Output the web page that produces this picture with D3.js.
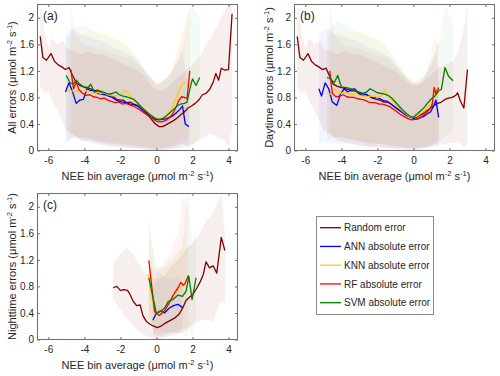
<!DOCTYPE html>
<html>
<head>
<meta charset="utf-8">
<script src="https://cdn.jsdelivr.net/npm/d3@7"></script>
<style>
  body { margin: 0; background: #fff; }
  svg text { font-family: "Liberation Sans", Arial, Helvetica, sans-serif; fill: #262626; }
</style>
</head>
<body>
<div id="plot"></div>
<script>
// Axis ticks and legend names
const xTicks = [-6, -4, -2, 0, 2, 4];
const yTicks = [0, 0.4, 0.8, 1.2, 1.6, 2];
const yTickLabels = ["0", "0.4", "0.8", "1.2", "1.6", "2"];
const seriesNames = ["Random error", "ANN absolute error", "KNN absolute error", "RF absolute error", "SVM absolute error"];
const seriesColors = ["#800000", "#0000ff", "#ffcc00", "#ff0000", "#008000"];

// (a) All errors: [NEE bin, error]
const aRandom = [[-6.45,1.72],[-6.3,1.40],[-6.1,1.36],[-5.85,1.46],[-5.65,1.34],[-5.45,1.29],[-5.25,1.26],[-5.05,1.22],[-4.85,1.25],[-4.65,1.13],[-4.45,1.02],[-4.25,0.98],[-4.05,0.96],[-3.85,0.95],[-3.65,0.93],[-3.45,0.90],[-3.25,0.91],[-3.05,0.87],[-2.85,0.86],[-2.65,0.84],[-2.45,0.83],[-2.25,0.78],[-2.05,0.76],[-1.85,0.76],[-1.65,0.72],[-1.45,0.73],[-1.25,0.70],[-1.05,0.68],[-0.85,0.64],[-0.65,0.60],[-0.45,0.53],[-0.25,0.46],[-0.05,0.40],[0.15,0.36],[0.35,0.36],[0.55,0.39],[0.75,0.42],[0.95,0.45],[1.15,0.49],[1.35,0.54],[1.55,0.58],[1.75,0.64],[1.95,0.67],[2.15,0.71],[2.35,0.76],[2.55,0.84],[2.75,0.86],[2.95,0.92],[3.15,1.03],[3.3,1.16],[3.45,1.06],[3.6,1.24],[3.8,1.21],[4.0,1.22],[4.2,2.06]];
const aAnn = [[-5.05,0.88],[-4.85,1.02],[-4.65,0.88],[-4.45,0.71],[-4.25,0.76],[-4.05,0.77],[-3.85,0.93],[-3.65,0.90],[-3.45,0.91],[-3.25,0.86],[-3.05,0.85],[-2.85,0.84],[-2.65,0.82],[-2.45,0.80],[-2.25,0.76],[-2.05,0.74],[-1.85,0.73],[-1.65,0.72],[-1.45,0.70],[-1.25,0.69],[-1.05,0.67],[-0.85,0.63],[-0.65,0.58],[-0.45,0.54],[-0.25,0.50],[-0.05,0.47],[0.15,0.46],[0.35,0.47],[0.55,0.48],[0.75,0.50],[0.95,0.53],[1.15,0.58],[1.3,0.62],[1.45,0.67],[1.6,0.40],[1.8,0.36]];
const aKnn = [[-4.9,0.91],[-4.7,0.90],[-4.5,0.89],[-4.3,0.90],[-4.1,0.88],[-3.9,0.90],[-3.7,0.89],[-3.5,0.87],[-3.3,0.88],[-3.1,0.86],[-2.9,0.87],[-2.7,0.84],[-2.5,0.83],[-2.3,0.82],[-2.1,0.84],[-1.9,0.86],[-1.7,0.91],[-1.5,0.84],[-1.3,0.78],[-1.1,0.72],[-0.9,0.67],[-0.7,0.62],[-0.5,0.58],[-0.3,0.53],[-0.1,0.50],[0.1,0.48],[0.3,0.49],[0.5,0.52],[0.7,0.58],[0.9,0.66],[1.1,0.80],[1.3,0.93],[1.45,1.00],[1.6,1.03]];
const aRf = [[-4.75,1.22],[-4.6,0.93],[-4.45,1.03],[-4.3,0.92],[-4.1,0.86],[-3.9,0.83],[-3.7,0.84],[-3.5,0.81],[-3.3,0.80],[-3.1,0.78],[-2.9,0.79],[-2.7,0.76],[-2.5,0.74],[-2.3,0.72],[-2.1,0.73],[-1.9,0.70],[-1.7,0.71],[-1.5,0.69],[-1.3,0.67],[-1.1,0.64],[-0.9,0.61],[-0.7,0.57],[-0.5,0.53],[-0.3,0.49],[-0.1,0.46],[0.1,0.43],[0.3,0.43],[0.5,0.45],[0.7,0.49],[0.9,0.55],[1.1,0.66],[1.25,0.76],[1.4,0.81],[1.55,0.80],[1.7,0.78],[1.85,1.20]];
const aSvm = [[-5.0,1.13],[-4.8,1.02],[-4.6,1.00],[-4.45,1.06],[-4.25,1.00],[-4.05,0.96],[-3.85,0.93],[-3.65,1.00],[-3.45,0.88],[-3.25,0.90],[-3.05,0.89],[-2.85,0.87],[-2.65,0.85],[-2.45,0.86],[-2.25,0.88],[-2.05,0.84],[-1.85,0.82],[-1.65,0.81],[-1.45,0.79],[-1.25,0.77],[-1.05,0.72],[-0.85,0.66],[-0.65,0.61],[-0.45,0.56],[-0.25,0.52],[-0.05,0.48],[0.15,0.47],[0.35,0.48],[0.55,0.52],[0.75,0.57],[0.95,0.62],[1.15,0.67],[1.35,0.70],[1.55,0.71],[1.7,0.73],[1.85,0.92],[2.0,1.08],[2.2,0.98],[2.4,1.10]];

// (a) spread bands: [NEE bin, low, high]
const aRandomBand = [[-6.45,0.95,2.2],[-6.2,0.85,1.75],[-6.0,0.9,1.55],[-5.8,0.75,1.7],[-5.5,0.6,1.6],[-5.2,0.45,1.65],[-5.0,0.3,1.55],[-4.6,0.25,1.5],[-4.2,0.15,1.45],[-3.8,0.12,1.5],[-3.4,0.1,1.45],[-3.0,0.08,1.45],[-2.6,0.06,1.4],[-2.2,0.05,1.35],[-1.8,0.05,1.3],[-1.4,0.04,1.25],[-1.0,0.03,1.2],[-0.6,0.02,1.1],[-0.2,0.01,0.95],[0.2,0.0,0.9],[0.6,0.02,0.95],[1.0,0.03,1.05],[1.4,0.05,1.15],[1.8,0.08,1.25],[2.2,0.12,1.35],[2.6,0.2,1.5],[3.0,0.25,1.7],[3.4,0.2,1.9],[3.8,0.15,2.1],[4.0,0.05,2.2],[4.2,0.3,2.2]];
const aAnnBand = [[-5.05,0.1,1.7],[-4.6,0.2,1.85],[-4.2,0.15,1.75],[-3.6,0.15,1.7],[-3.0,0.1,1.65],[-2.4,0.08,1.55],[-1.8,0.05,1.5],[-1.2,0.03,1.4],[-0.6,0.02,1.2],[0.0,0.0,1.0],[0.6,0.02,1.1],[1.2,0.05,1.35],[1.45,0.1,1.5],[1.8,0.0,0.9]];
const aKnnBand = [[-4.9,0.2,1.7],[-4.3,0.2,1.75],[-3.7,0.18,1.8],[-3.1,0.15,1.8],[-2.5,0.12,1.75],[-1.9,0.1,1.75],[-1.3,0.08,1.5],[-0.7,0.05,1.25],[-0.1,0.05,1.05],[0.5,0.05,1.1],[1.1,0.15,1.5],[1.6,0.2,1.9]];
const aRfBand = [[-4.75,0.25,2.2],[-4.5,0.2,1.75],[-4.0,0.2,1.6],[-3.4,0.15,1.55],[-2.8,0.12,1.5],[-2.2,0.1,1.45],[-1.6,0.08,1.4],[-1.0,0.06,1.3],[-0.4,0.04,1.1],[0.2,0.03,1.0],[0.8,0.05,1.15],[1.3,0.1,1.6],[1.85,0.15,2.2]];
const aSvmBand = [[-5.0,0.15,1.75],[-4.5,0.2,1.85],[-4.0,0.18,1.9],[-3.5,0.15,1.8],[-3.0,0.12,1.75],[-2.5,0.1,1.7],[-2.0,0.1,1.65],[-1.5,0.08,1.55],[-1.0,0.06,1.35],[-0.5,0.04,1.15],[0.0,0.03,1.0],[0.5,0.04,1.05],[1.0,0.08,1.25],[1.5,0.1,1.6],[1.9,0.05,2.2],[2.4,0.2,2.0]];

// (b) Daytime errors
const bRandom = [[-6.45,1.72],[-6.3,1.40],[-6.1,1.36],[-5.85,1.46],[-5.65,1.34],[-5.45,1.29],[-5.25,1.26],[-5.05,1.22],[-4.85,1.24],[-4.65,1.12],[-4.45,1.00],[-4.25,0.97],[-4.05,0.95],[-3.85,0.94],[-3.65,0.92],[-3.45,0.90],[-3.25,0.90],[-3.05,0.87],[-2.85,0.86],[-2.65,0.84],[-2.45,0.82],[-2.25,0.79],[-2.05,0.77],[-1.85,0.76],[-1.65,0.73],[-1.45,0.73],[-1.25,0.70],[-1.05,0.66],[-0.85,0.62],[-0.65,0.58],[-0.45,0.55],[-0.25,0.52],[-0.05,0.50],[0.15,0.50],[0.35,0.53],[0.55,0.56],[0.75,0.60],[0.95,0.64],[1.15,0.68],[1.35,0.71],[1.55,0.73],[1.75,0.77],[1.95,0.79],[2.15,0.80],[2.35,0.83],[2.45,0.87],[2.6,0.75],[2.8,0.64],[3.0,1.22]];
const bAnn = [[-5.25,0.93],[-5.1,0.82],[-4.9,1.02],[-4.7,0.93],[-4.5,0.73],[-4.25,0.68],[-4.05,0.85],[-3.85,0.93],[-3.65,0.88],[-3.45,0.92],[-3.25,0.93],[-3.05,0.86],[-2.85,0.83],[-2.65,0.85],[-2.45,0.82],[-2.25,0.79],[-2.05,0.80],[-1.85,0.78],[-1.65,0.75],[-1.45,0.74],[-1.25,0.70],[-1.05,0.66],[-0.85,0.62],[-0.65,0.58],[-0.45,0.54],[-0.25,0.51],[-0.05,0.49],[0.15,0.47],[0.35,0.49],[0.55,0.51],[0.75,0.55],[0.95,0.58],[1.1,0.66],[1.25,0.76],[1.4,0.50]];
const bKnn = [[-4.8,0.86],[-4.6,0.85],[-4.4,0.93],[-4.2,0.88],[-4.0,0.86],[-3.8,0.88],[-3.6,0.86],[-3.4,0.84],[-3.2,0.86],[-3.0,0.83],[-2.8,0.82],[-2.6,0.81],[-2.4,0.82],[-2.2,0.82],[-2.0,0.80],[-1.8,0.82],[-1.6,0.91],[-1.4,0.82],[-1.2,0.76],[-1.0,0.70],[-0.8,0.64],[-0.6,0.59],[-0.4,0.55],[-0.2,0.51],[0.0,0.50],[0.2,0.52],[0.4,0.56],[0.6,0.60],[0.8,0.66],[1.0,0.72],[1.15,0.83],[1.3,0.92],[1.4,0.95]];
const bRf = [[-4.65,1.20],[-4.5,0.86],[-4.3,0.81],[-4.1,0.82],[-3.9,0.84],[-3.7,0.81],[-3.5,0.80],[-3.3,0.80],[-3.1,0.78],[-2.9,0.77],[-2.7,0.76],[-2.5,0.73],[-2.3,0.72],[-2.1,0.72],[-1.9,0.70],[-1.7,0.70],[-1.5,0.68],[-1.3,0.66],[-1.1,0.62],[-0.9,0.58],[-0.7,0.54],[-0.5,0.51],[-0.3,0.48],[-0.1,0.46],[0.1,0.47],[0.3,0.48],[0.5,0.52],[0.7,0.56],[0.9,0.62],[1.05,0.70],[1.15,0.95],[1.25,0.85],[1.4,0.95]];
const bSvm = [[-4.8,1.10],[-4.6,1.08],[-4.4,1.02],[-4.2,1.13],[-4.0,0.96],[-3.8,0.95],[-3.6,0.94],[-3.4,0.92],[-3.2,0.90],[-3.0,0.88],[-2.8,0.86],[-2.6,0.88],[-2.4,0.93],[-2.2,0.90],[-2.0,0.87],[-1.8,0.86],[-1.6,0.85],[-1.4,0.83],[-1.2,0.79],[-1.0,0.73],[-0.8,0.67],[-0.6,0.61],[-0.4,0.56],[-0.2,0.52],[0.0,0.50],[0.2,0.55],[0.4,0.60],[0.6,0.65],[0.8,0.72],[1.0,0.78],[1.2,0.82],[1.4,0.90],[1.55,0.92],[1.75,1.25],[1.95,1.12],[2.2,1.05]];

const bRandomBand = [[-6.45,0.95,2.2],[-6.2,0.85,1.75],[-6.0,0.9,1.55],[-5.8,0.75,1.7],[-5.5,0.6,1.6],[-5.2,0.45,1.65],[-5.0,0.3,1.55],[-4.6,0.25,1.5],[-4.2,0.15,1.45],[-3.8,0.12,1.5],[-3.4,0.1,1.45],[-3.0,0.08,1.45],[-2.6,0.06,1.4],[-2.2,0.05,1.35],[-1.8,0.05,1.3],[-1.4,0.04,1.25],[-1.0,0.03,1.2],[-0.6,0.03,1.1],[-0.2,0.02,1.0],[0.2,0.02,0.98],[0.6,0.04,1.05],[1.0,0.06,1.15],[1.4,0.08,1.25],[1.8,0.1,1.3],[2.2,0.12,1.35],[2.5,0.12,1.5],[2.8,0.05,1.85],[3.0,0.1,2.2]];
const bAnnBand = [[-5.25,0.1,1.75],[-4.8,0.12,1.85],[-4.3,0.1,1.75],[-3.7,0.1,1.7],[-3.1,0.08,1.65],[-2.5,0.06,1.55],[-1.9,0.05,1.5],[-1.3,0.03,1.4],[-0.7,0.02,1.2],[-0.1,0.0,1.0],[0.5,0.02,1.05],[1.0,0.05,1.3],[1.25,0.1,1.5],[1.4,0.0,1.0]];
const bKnnBand = [[-4.8,0.2,1.7],[-4.2,0.2,1.8],[-3.6,0.18,1.8],[-3.0,0.15,1.8],[-2.4,0.12,1.75],[-1.8,0.1,1.7],[-1.2,0.08,1.45],[-0.6,0.05,1.2],[0.0,0.05,1.05],[0.6,0.06,1.1],[1.1,0.15,1.45],[1.4,0.2,1.7]];
const bRfBand = [[-4.65,0.25,2.2],[-4.4,0.2,1.75],[-3.9,0.2,1.6],[-3.3,0.15,1.55],[-2.7,0.12,1.5],[-2.1,0.1,1.45],[-1.5,0.08,1.4],[-0.9,0.06,1.25],[-0.3,0.04,1.08],[0.3,0.04,1.0],[0.8,0.06,1.2],[1.15,0.1,1.7],[1.4,0.15,1.6]];
const bSvmBand = [[-4.8,0.15,1.8],[-4.3,0.2,1.95],[-3.8,0.18,1.9],[-3.3,0.15,1.8],[-2.8,0.12,1.75],[-2.3,0.1,1.7],[-1.8,0.1,1.65],[-1.3,0.08,1.5],[-0.8,0.06,1.3],[-0.3,0.04,1.1],[0.1,0.04,1.02],[0.6,0.06,1.15],[1.1,0.1,1.4],[1.5,0.15,1.7],[1.75,0.2,2.2],[2.2,0.3,1.9]];

// (c) Nighttime errors
const cRandom = [[-2.4,0.78],[-2.2,0.80],[-2.0,0.74],[-1.8,0.75],[-1.6,0.74],[-1.45,0.67],[-1.3,0.58],[-1.1,0.51],[-0.9,0.52],[-0.75,0.36],[-0.55,0.27],[-0.35,0.23],[-0.15,0.20],[0.05,0.18],[0.25,0.20],[0.45,0.24],[0.65,0.27],[0.85,0.30],[1.05,0.33],[1.25,0.38],[1.45,0.47],[1.65,0.59],[1.85,0.64],[2.05,0.69],[2.25,0.78],[2.45,0.88],[2.6,0.98],[2.75,1.17],[2.95,1.08],[3.15,1.11],[3.35,1.00],[3.6,1.54],[3.8,1.34]];
const cAnn = [[-0.2,0.29],[0.0,0.40],[0.2,0.43],[0.45,0.40],[0.7,0.47],[0.95,0.51],[1.2,0.53],[1.45,0.48]];
const cKnn = [[-0.45,0.98],[-0.1,0.40],[0.1,0.40],[0.3,0.44],[0.5,0.50],[0.7,0.58],[0.9,0.66],[1.1,0.72],[1.3,0.78],[1.5,0.82],[1.65,0.88]];
const cRf = [[-0.42,1.19],[-0.1,0.42],[0.15,0.36],[0.45,0.43],[0.75,0.57],[1.0,0.70],[1.2,0.78],[1.35,0.86],[1.5,0.82],[1.6,0.85],[1.78,0.97]];
const cSvm = [[-0.42,0.93],[0.0,0.39],[0.2,0.42],[0.45,0.47],[0.65,0.57],[0.9,0.60],[1.2,0.67],[1.45,0.65],[1.65,0.73],[1.8,0.95],[1.98,0.60],[2.2,0.93]];

const cRandomBand = [[-2.4,0.6,1.15],[-2.0,0.45,1.3],[-1.6,0.3,1.38],[-1.2,0.18,1.25],[-0.8,0.08,1.05],[-0.4,0.03,0.95],[0.0,0.0,0.9],[0.4,0.02,0.95],[0.8,0.05,1.1],[1.2,0.08,1.2],[1.6,0.15,1.35],[2.0,0.22,1.45],[2.4,0.28,1.6],[2.8,0.3,1.8],[3.15,0.27,1.9],[3.6,0.6,2.2],[3.8,0.55,1.6]];
const cAnnBand = [[-0.2,0.05,0.6],[0.0,0.1,1.05],[0.4,0.1,0.95],[0.8,0.1,0.9],[1.2,0.1,0.95],[1.45,0.1,0.85]];
const cKnnBand = [[-0.45,0.3,1.5],[-0.1,0.05,1.0],[0.4,0.05,1.05],[0.9,0.1,1.25],[1.3,0.15,1.45],[1.65,0.05,1.6]];
const cRfBand = [[-0.42,0.4,1.9],[-0.1,0.05,1.1],[0.3,0.05,1.1],[0.8,0.1,1.35],[1.2,0.15,1.6],[1.5,0.2,2.2],[1.78,0.1,1.9]];
const cSvmBand = [[-0.42,0.3,1.7],[0.0,0.05,1.05],[0.45,0.08,1.1],[0.9,0.1,1.2],[1.45,0.1,1.4],[1.65,0.0,2.2],[1.8,0.2,2.2],[1.98,0.0,1.5],[2.2,0.3,1.7]];

const W = 500, H = 376;
const svg = d3.select("#plot").append("svg")
  .attr("width", W).attr("height", H);

const panels = [
  { tag: "(a)", ylab: "All errors", left: 37.5, top: 4.5, bottom: 150.5,
    lines: [aRandom, aAnn, aKnn, aRf, aSvm], bands: [aRandomBand, aAnnBand, aKnnBand, aRfBand, aSvmBand] },
  { tag: "(b)", ylab: "Daytime errors", left: 294.5, top: 4.5, bottom: 150.5,
    lines: [bRandom, bAnn, bKnn, bRf, bSvm], bands: [bRandomBand, bAnnBand, bKnnBand, bRfBand, bSvmBand] },
  { tag: "(c)", ylab: "Nighttime errors", left: 37.5, top: 193.5, bottom: 339.5,
    lines: [cRandom, cAnn, cKnn, cRf, cSvm], bands: [cRandomBand, cAnnBand, cKnnBand, cRfBand, cSvmBand] }
];

const axColor = "#6e6e6e";

// unit label with superscripts
function unitLabel(sel, prefix) {
  sel.append("tspan").text(prefix + " (");
  sel.append("tspan").text("\u03bc");
  sel.append("tspan").text("mol m");
  sel.append("tspan").attr("dy", -4).style("font-size", "7.5px").text("-2");
  sel.append("tspan").attr("dy", 4).text(" s");
  sel.append("tspan").attr("dy", -4).style("font-size", "7.5px").text("-1");
  sel.append("tspan").attr("dy", 4).text(")");
}

panels.forEach((p, pi) => {
  const right = p.left + 200;
  const x = d3.scaleLinear().domain([-6.6, 4.5]).range([p.left, right]);
  const y = d3.scaleLinear().domain([0, 2.2]).range([p.bottom, p.top]);
  const g = svg.append("g");

  g.append("clipPath").attr("id", "clip" + pi)
    .append("rect")
    .attr("x", p.left).attr("y", p.top)
    .attr("width", right - p.left).attr("height", p.bottom - p.top);

  const plot = g.append("g").attr("clip-path", `url(#clip${pi})`);

  // shaded bands
  const area = d3.area()
    .x(d => x(d[0]))
    .y0(d => y(d[1]))
    .y1(d => y(d[2]));
  p.bands.forEach((b, i) => {
    plot.append("path")
      .attr("d", area(b))
      .attr("fill", seriesColors[i])
      .attr("fill-opacity", i === 0 ? 0.065 : 0.045);
  });

  // lines
  const line = d3.line().x(d => x(d[0])).y(d => y(d[1]));
  p.lines.forEach((s, i) => {
    plot.append("path")
      .attr("d", line(s))
      .attr("fill", "none")
      .attr("stroke", seriesColors[i])
      .attr("stroke-width", 1.3)
      .attr("stroke-linejoin", "round");
  });

  // axes, ticks pointing inward
  const xb = g.append("g").attr("transform", `translate(0,${p.bottom})`)
    .call(d3.axisBottom(x).tickValues(xTicks).tickFormat(d => String(d))
      .tickSize(-2.5).tickSizeOuter(0).tickPadding(6.5));
  const xt = g.append("g").attr("transform", `translate(0,${p.top})`)
    .call(d3.axisTop(x).tickValues(xTicks).tickFormat("")
      .tickSize(-2.5).tickSizeOuter(0));
  const yl = g.append("g").attr("transform", `translate(${p.left},0)`)
    .call(d3.axisLeft(y).tickValues(yTicks).tickFormat((d, i) => yTickLabels[i])
      .tickSize(-2.5).tickSizeOuter(0).tickPadding(3.5));
  const yr = g.append("g").attr("transform", `translate(${right},0)`)
    .call(d3.axisRight(y).tickValues(yTicks).tickFormat("")
      .tickSize(-2.5).tickSizeOuter(0));
  [xb, xt, yl, yr].forEach(a => {
    a.select(".domain").remove();
    a.selectAll("line").attr("stroke", axColor);
    a.selectAll("text").style("font-size", "10px").attr("fill", "#262626")
      .style("font-family", "'Liberation Sans', Arial, Helvetica, sans-serif");
  });

  // frame
  g.append("rect")
    .attr("x", p.left).attr("y", p.top)
    .attr("width", right - p.left).attr("height", p.bottom - p.top)
    .attr("fill", "none").attr("stroke", axColor).attr("stroke-width", 1);

  // panel tag
  g.append("text")
    .attr("x", p.left + 5.5).attr("y", p.top + 15)
    .style("font-size", "12px")
    .text(p.tag);

  // x label
  const xl = g.append("text")
    .attr("x", (p.left + right) / 2).attr("y", p.bottom + 29)
    .attr("text-anchor", "middle")
    .style("font-size", "11px");
  unitLabel(xl, "NEE bin average");

  // y label
  const ylab = g.append("text")
    .attr("transform", `translate(${p.left - 22},${(p.top + p.bottom) / 2}) rotate(-90)`)
    .attr("text-anchor", "middle")
    .style("font-size", "11px");
  unitLabel(ylab, p.ylab);
});

// legend
const leg = svg.append("g");
leg.append("rect")
  .attr("x", 316.5).attr("y", 216.5)
  .attr("width", 117).attr("height", 98)
  .attr("fill", "#fff").attr("stroke", "#8a8a8a").attr("stroke-width", 1);
const legY = d3.scalePoint().domain(seriesNames).range([227.7, 302.7]);
seriesNames.forEach((n, i) => {
  leg.append("line")
    .attr("x1", 320).attr("x2", 341)
    .attr("y1", legY(n)).attr("y2", legY(n))
    .attr("stroke", seriesColors[i]).attr("stroke-width", 1.3);
  leg.append("text")
    .attr("x", 344).attr("y", legY(n) + 3.6)
    .style("font-size", "10px")
    .text(n);
});
</script>
</body>
</html>
